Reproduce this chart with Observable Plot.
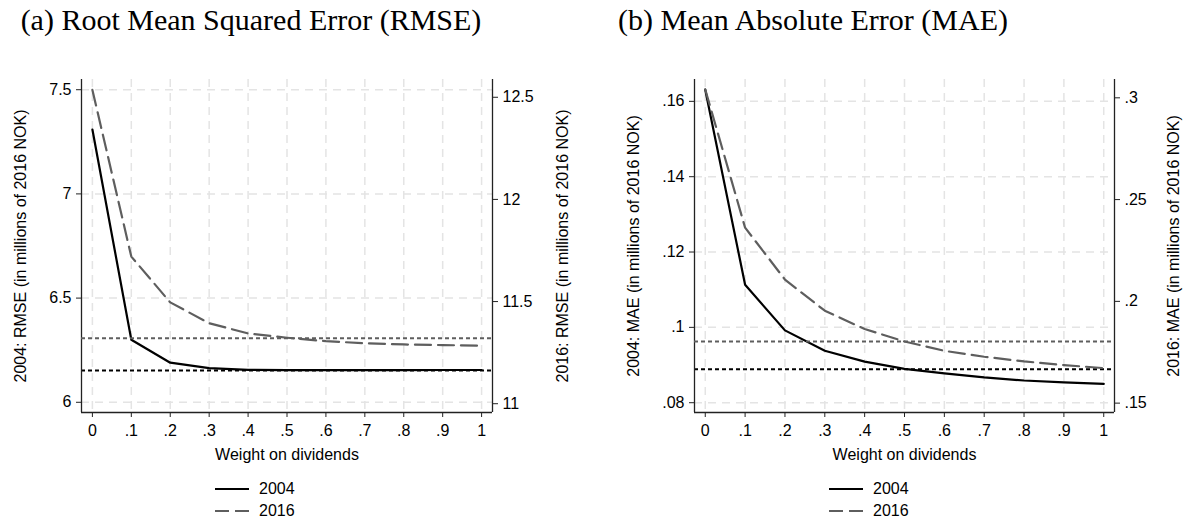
<!DOCTYPE html>
<html><head><meta charset="utf-8">
<script src="https://cdn.jsdelivr.net/npm/d3@7"></script>
<script src="https://cdn.jsdelivr.net/npm/@observablehq/plot@0.6"></script>
<style>
body{margin:0;background:#fff;}
#root{position:relative;width:1192px;height:526px;overflow:hidden;background:#fff;font-family:"Liberation Sans",Arial,sans-serif;}
.title{position:absolute;top:3px;font-family:"Liberation Serif","Times New Roman",serif;font-size:30px;line-height:1.1;white-space:nowrap;transform:translateX(-50%);color:#000;}
.layer{position:absolute;top:0;}
.legend{position:absolute;font-size:16px;color:#000;}
.legend .row{display:flex;align-items:center;height:22px;}
.legend svg{margin-right:10px;}
</style></head><body><div id="root"></div>
<script>
// ---- data ----
const weights = [0, 0.1, 0.2, 0.3, 0.4, 0.5, 0.6, 0.7, 0.8, 0.9, 1];
const years = ["2004", "2016"];

const rmse2004 = [7.309, 6.300, 6.190, 6.164, 6.156, 6.154, 6.154, 6.154, 6.154, 6.155, 6.155];
const rmse2016 = [12.536, 11.720, 11.496, 11.394, 11.344, 11.323, 11.306, 11.296, 11.290, 11.287, 11.284];
const rmseBaseline2004 = [6.152];
const rmseBaseline2016 = [11.321];

const mae2004 = [0.1631, 0.1113, 0.0992, 0.0938, 0.0909, 0.0890, 0.0878, 0.0867, 0.0859, 0.0854, 0.0850];
const mae2016 = [0.3041, 0.2362, 0.2107, 0.1954, 0.1864, 0.1803, 0.1757, 0.1728, 0.1705, 0.1687, 0.1672];
const maeBaseline2004 = [0.0889];
const maeBaseline2016 = [0.1803];

const xTicks = [0, 0.1, 0.2, 0.3, 0.4, 0.5, 0.6, 0.7, 0.8, 0.9, 1];
const rmseLeftTicks = [6, 6.5, 7, 7.5];
const rmseRightTicks = [11, 11.5, 12, 12.5];
const maeLeftTicks = [0.08, 0.1, 0.12, 0.14, 0.16];
const maeRightTicks = [0.15, 0.2, 0.25, 0.3];

const titles = ["(a) Root Mean Squared Error (RMSE)", "(b) Mean Absolute Error (MAE)"];
const xLabel = "Weight on dividends";
const rmseLeftLabel = "2004: RMSE (in millions of 2016 NOK)";
const rmseRightLabel = "2016: RMSE (in millions of 2016 NOK)";
const maeLeftLabel = "2004: MAE (in millions of 2016 NOK)";
const maeRightLabel = "2016: MAE (in millions of 2016 NOK)";

// ---- helpers ----
const fmt = d => String(d).replace(/^0\./, ".");
const W = 596, H = 526;
const FONT = "Liberation Sans, Arial, sans-serif";
const gridStyle = {stroke: "#e4e4e4", strokeOpacity: 1, strokeWidth: 1.5, strokeDasharray: "8,6"};
const axisStroke = "#222";

function panel(cfg) {
  const common = {
    width: W, height: H,
    marginLeft: cfg.ml, marginRight: cfg.mr, marginTop: 79, marginBottom: 114,
    style: {fontFamily: FONT, fontSize: "16px", background: "transparent", color: "#000", overflow: "visible"}
  };
  const left = Plot.plot({
    ...common,
    x: {domain: cfg.xDomain},
    y: {domain: cfg.yLeftDomain},
    marks: [
      Plot.gridX(xTicks, gridStyle),
      Plot.gridY(cfg.leftTicks, gridStyle),
      Plot.ruleY(cfg.base2004, {stroke: "#000", strokeWidth: 2, strokeDasharray: "4,3"}),
      Plot.line(weights, {x: d => d, y: (d, i) => cfg.s2004[i], stroke: "#000", strokeWidth: 2.2}),
      Plot.ruleX([cfg.xDomain[0]], {stroke: axisStroke, strokeWidth: 1.3}),
      Plot.ruleY([cfg.yLeftDomain[0]], {stroke: axisStroke, strokeWidth: 1.3}),
      Plot.axisX(xTicks, {tickFormat: fmt, tickSize: 5, tickPadding: 7, stroke: axisStroke, label: null, fontSize: 16}),
      Plot.axisY(cfg.leftTicks, {anchor: "left", tickFormat: fmt, tickSize: 5, tickPadding: 5, stroke: axisStroke, label: null, fontSize: 16}),
      Plot.text([xLabel], {text: d => d, frameAnchor: "bottom", dy: 42, lineAnchor: "middle", fontSize: 16}),
      Plot.text([cfg.leftLabel], {text: d => d, frameAnchor: "left", dx: cfg.leftLabelDx, rotate: -90, lineAnchor: "middle", textAnchor: "middle", fontSize: 16})
    ]
  });
  const right = Plot.plot({
    ...common,
    x: {domain: cfg.xDomain, axis: null},
    y: {domain: cfg.yRightDomain},
    marks: [
      Plot.ruleY(cfg.base2016, {stroke: "#5e5e5e", strokeWidth: 2, strokeDasharray: "4,3"}),
      Plot.line(weights, {x: d => d, y: (d, i) => cfg.s2016[i], stroke: "#5e5e5e", strokeWidth: 2.2, strokeDasharray: "16,7"}),
      Plot.ruleX([cfg.xDomain[1]], {stroke: axisStroke, strokeWidth: 1.3}),
      Plot.axisY(cfg.rightTicks, {anchor: "right", tickFormat: fmt, tickSize: 5, tickPadding: 5, stroke: axisStroke, label: null, fontSize: 16}),
      Plot.text([cfg.rightLabel], {text: d => d, frameAnchor: "right", dx: cfg.rightLabelDx, rotate: -90, lineAnchor: "middle", textAnchor: "middle", fontSize: 16})
    ]
  });
  for (const svg of [left, right]) {
    svg.classList.add("layer");
    svg.style.left = cfg.left + "px";
    root.appendChild(svg);
  }
  const t = document.createElement("div");
  t.className = "title";
  t.style.left = cfg.titleX + "px";
  t.textContent = cfg.title;
  root.appendChild(t);

  // legend
  const lg = document.createElement("div");
  lg.className = "legend";
  lg.style.left = cfg.legendX + "px";
  lg.style.top = "478px";
  const styles = [
    {stroke: "#000", dash: null},
    {stroke: "#5e5e5e", dash: "14,6"}
  ];
  years.forEach((y, i) => {
    const row = document.createElement("div");
    row.className = "row";
    row.innerHTML = `<svg width="34" height="6"><line x1="0" x2="34" y1="3" y2="3" stroke="${styles[i].stroke}" stroke-width="2.2" ${styles[i].dash ? `stroke-dasharray="${styles[i].dash}"` : ""}/></svg><span>${y}</span>`;
    lg.appendChild(row);
  });
  root.appendChild(lg);
}

const root = document.getElementById("root");

panel({
  left: 0, ml: 81, mr: 104,
  xDomain: [-0.028, 1.028],
  yLeftDomain: [5.951, 7.549], yRightDomain: [10.957, 12.587],
  leftTicks: rmseLeftTicks, rightTicks: rmseRightTicks,
  s2004: rmse2004, s2016: rmse2016,
  base2004: rmseBaseline2004, base2016: rmseBaseline2016,
  leftLabel: rmseLeftLabel, rightLabel: rmseRightLabel,
  leftLabelDx: -61, rightLabelDx: 70,
  title: titles[0], titleX: 251, legendX: 215
});
panel({
  left: 596, ml: 98, mr: 78,
  xDomain: [-0.027, 1.027],
  yLeftDomain: [0.0774, 0.1658], yRightDomain: [0.1454, 0.3090],
  leftTicks: maeLeftTicks, rightTicks: maeRightTicks,
  s2004: mae2004, s2016: mae2016,
  base2004: maeBaseline2004, base2016: maeBaseline2016,
  leftLabel: maeLeftLabel, rightLabel: maeRightLabel,
  leftLabelDx: -61, rightLabelDx: 59,
  title: titles[1], titleX: 813, legendX: 829
});
</script></body></html>
